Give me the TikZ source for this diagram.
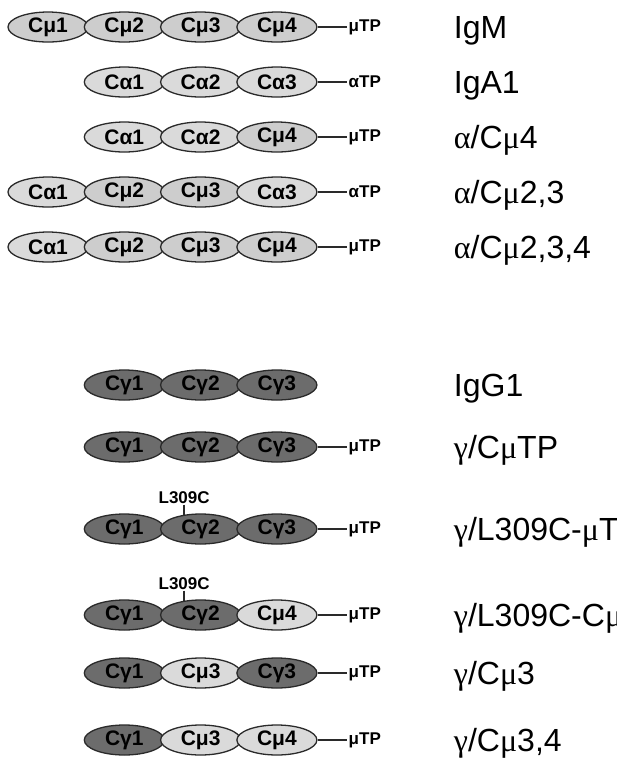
\documentclass[tikz,border=0pt]{standalone}
\usepackage{fontspec}
\setmainfont{Liberation Sans}
\newfontfamily\greekserif{Liberation Serif}
\usepackage{tikz}
\usetikzlibrary{matrix, shapes, positioning, calc}
\definecolor{mulight}{HTML}{CDCDCD}
\definecolor{alphalight}{HTML}{DADADA}
\definecolor{gammadark}{HTML}{6C6C6C}
\definecolor{edge}{HTML}{2A2A2A}
\tikzset{
   mydomain/.style={ellipse, draw=edge, line width=1.3pt, minimum width=80pt, minimum height=30pt,
      inner sep=0pt, anchor=center, font=\bfseries\fontsize{21}{24}\selectfont},
   mymu/.style={mydomain, fill=mulight},
   myalpha/.style={mydomain, fill=alphalight},
   mygamma/.style={mydomain, fill=gammadark},
   mytp/.style={anchor=west, inner sep=2pt, font=\bfseries\fontsize{17}{20}\selectfont},
   mylabel/.style={anchor=base west, inner sep=0pt, yshift=-11pt, font=\fontsize{32}{36}\selectfont},
   mymut/.style={inner sep=1pt, font=\bfseries\fontsize{17}{20}\selectfont},
   mytail/.style={draw=edge, line width=1.3pt}
}

\begin{document}
\begin{tikzpicture}[x=1pt, y=1pt]
      \useasboundingbox (0,0) rectangle (617,-764);
      \clip (0,0) rectangle (617,-764);
      \matrix (m) [
          matrix of nodes, matrix anchor=m-1-1.center,
          row sep={55pt,between origins}, column sep=-5pt,
          column 5/.style={nodes={mytp}},
          column 6/.style={nodes={mylabel}},
          ampersand replacement=\&
      ] at (48,-27) {
        |[mymu]| Cμ1 \& |[mymu]| Cμ2 \& |[mymu]| Cμ3 \& |[mymu]| Cμ4 \&[34pt] μTP \&[76pt] IgM \\
        \& |[myalpha]| Cα1 \& |[myalpha]| Cα2 \& |[myalpha]| Cα3 \& αTP \& IgA1 \\
        \& |[myalpha]| Cα1 \& |[myalpha]| Cα2 \& |[mymu]| Cμ4 \& μTP \& {\greekserif α}/C{\greekserif μ}4 \\
        |[myalpha]| Cα1 \& |[mymu]| Cμ2 \& |[mymu]| Cμ3 \& |[myalpha]| Cα3 \& αTP \& {\greekserif α}/C{\greekserif μ}2,3 \\
        |[myalpha]| Cα1 \& |[mymu]| Cμ2 \& |[mymu]| Cμ3 \& |[mymu]| Cμ4 \& μTP \& {\greekserif α}/C{\greekserif μ}2,3,4 \\[83pt]
        \& |[mygamma]| Cγ1 \& |[mygamma]| Cγ2 \& |[mygamma]| Cγ3 \& \& IgG1 \\[7pt]
        \& |[mygamma]| Cγ1 \& |[mygamma]| Cγ2 \& |[mygamma]| Cγ3 \& μTP \& {\greekserif γ}/C{\greekserif μ}TP \\[27pt]
        \& |[mygamma]| Cγ1 \& |[mygamma]| Cγ2 \& |[mygamma]| Cγ3 \& μTP \& {\greekserif γ}/L309C-{\greekserif μ}TP \\[31pt]
        \& |[mygamma]| Cγ1 \& |[mygamma]| Cγ2 \& |[myalpha]| Cμ4 \& μTP \& {\greekserif γ}/L309C-C{\greekserif μ}4 \\[3pt]
        \& |[mygamma]| Cγ1 \& |[myalpha]| Cμ3 \& |[mygamma]| Cγ3 \& μTP \& {\greekserif γ}/C{\greekserif μ}3 \\[12pt]
        \& |[mygamma]| Cγ1 \& |[myalpha]| Cμ3 \& |[myalpha]| Cμ4 \& μTP \& {\greekserif γ}/C{\greekserif μ}3,4 \\
      };
      % tailpieces
      \draw[mytail] (m-1-4.east) -- (m-1-4.east -| m-1-5.west)
                    (m-2-4.east) -- (m-2-4.east -| m-2-5.west)
                    (m-3-4.east) -- (m-3-4.east -| m-3-5.west)
                    (m-4-4.east) -- (m-4-4.east -| m-4-5.west)
                    (m-5-4.east) -- (m-5-4.east -| m-5-5.west)
                    (m-7-4.east) -- (m-7-4.east -| m-7-5.west)
                    (m-8-4.east) -- (m-8-4.east -| m-8-5.west)
                    (m-9-4.east) -- (m-9-4.east -| m-9-5.west)
                    (m-10-4.east) -- (m-10-4.east -| m-10-5.west)
                    (m-11-4.east) -- (m-11-4.east -| m-11-5.west);
      % point mutation
      \node[mymut, above=10pt of m-8-3.139] (mutA) {L309C};
      \node[mymut, above=10pt of m-9-3.139] (mutB) {L309C};
      \draw[mytail] (mutA.south) -- (m-8-3.139);
      \draw[mytail] (mutB.south) -- (m-9-3.139);
\end{tikzpicture}
\end{document}
